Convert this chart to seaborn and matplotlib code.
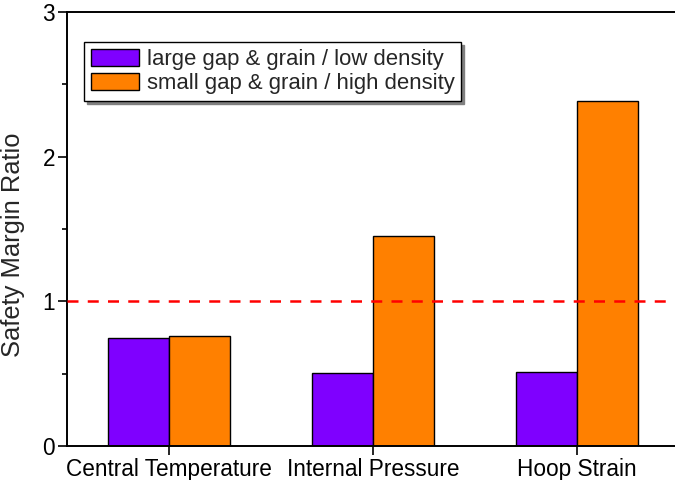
import numpy as np
import pandas as pd
import matplotlib
matplotlib.use("Agg")
import matplotlib.pyplot as plt
from matplotlib.ticker import MultipleLocator
import seaborn as sns

# Safety margin ratios per performance metric and fuel configuration
metrics = ["Central Temperature", "Internal Pressure", "Hoop Strain"]
configs = ["large gap & grain / low density", "small gap & grain / high density"]
low_density = [0.75, 0.505, 0.51]
high_density = [0.76, 1.455, 2.385]
threshold = 1.0

df = pd.DataFrame({
    "metric": metrics * 2,
    "config": [configs[0]] * 3 + [configs[1]] * 3,
    "ratio": low_density + high_density,
})

sns.set_theme(style="ticks")
plt.rcParams["font.family"] = ["Liberation Sans", "DejaVu Sans"]

fig = plt.figure(figsize=(6.75, 4.8), dpi=100)
ax = fig.add_axes([67 / 675, 34 / 480, 612 / 675, 434 / 480])

sns.barplot(
    data=df, x="metric", y="ratio", hue="config", order=metrics,
    hue_order=configs, palette=["#7F00FF", "#FF8000"], width=0.6, gap=0,
    edgecolor="black", linewidth=1.0, saturation=1, ax=ax, zorder=2,
)

# Unity margin reference line
ax.axhline(threshold, color="#FF0000", linestyle=(0, (4.4, 3.7)), linewidth=1.8, zorder=3)

ax.set_xlim(-0.5, 2.5)
ax.set_ylim(0, 3)
ax.yaxis.set_major_locator(MultipleLocator(1))
ax.yaxis.set_minor_locator(MultipleLocator(0.5))
ax.set_xlabel("")
ax.set_ylabel("Safety Margin Ratio", fontsize=18.4)
ax.yaxis.set_label_coords(-0.068, 0.463)

for side in ["left", "bottom", "top"]:
    ax.spines[side].set_linewidth(1.4)
    ax.spines[side].set_color("black")
ax.spines["right"].set_visible(False)

ax.tick_params(axis="both", which="major", direction="out", length=6.5, width=1.2,
               labelsize=16.3, color="black", labelcolor="black")
ax.tick_params(axis="y", which="minor", direction="out", length=3.5, width=1.2, color="black")
ax.tick_params(axis="x", which="major", pad=2)
ax.tick_params(axis="y", which="major", pad=2)

leg = ax.legend(
    loc="upper left", bbox_to_anchor=(17 / 612, 1 - 30 / 434), frameon=True,
    fontsize=15.9, handlelength=2.2, handleheight=0.85, handletextpad=0.35,
    borderpad=0.3, labelspacing=0.12, borderaxespad=0, fancybox=False,
    shadow={"color": "#808080", "alpha": 1.0}, title=None,
)
leg.get_frame().set_edgecolor("black")
leg.get_frame().set_linewidth(1.0)
for h in leg.legend_handles:
    h.set_edgecolor("black")
    h.set_linewidth(1.0)

fig.savefig("out.png", dpi=100)
